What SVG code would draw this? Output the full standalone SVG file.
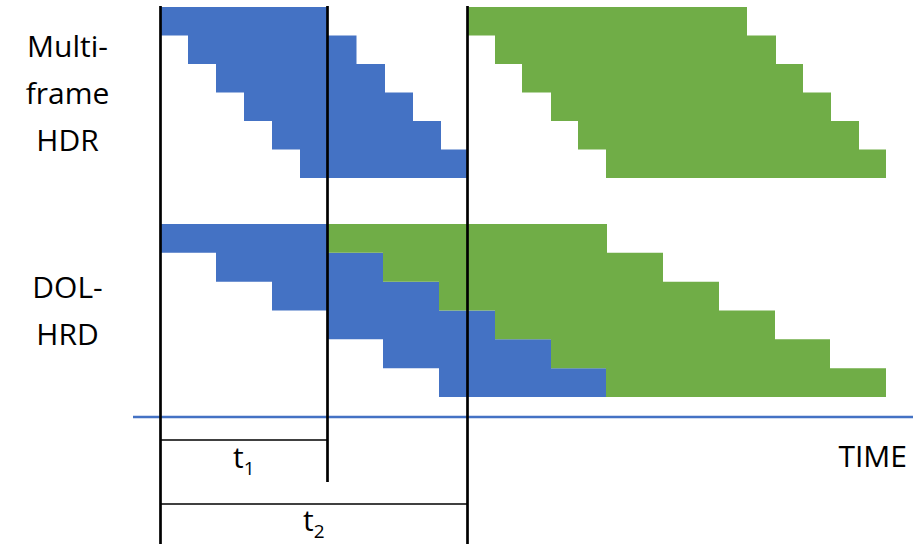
<svg xmlns="http://www.w3.org/2000/svg" width="919" height="544" viewBox="0 0 919 544">
<style>
.lbl{font-family:"Open Sans","Liberation Sans",sans-serif;font-size:30px;fill:#000}
.sub{font-size:19px}
.blue{fill:#4472C4}
.green{fill:#70AD47}
.vl{stroke:#000;stroke-width:2.7;fill:none}
.hl{stroke:#000;stroke-width:1.7;fill:none}
.axis{stroke:#4472C4;stroke-width:2.5;fill:none}
</style>
<rect width="919" height="544" fill="#fff"/>
<g id="label-multiframe">
<text class="lbl" x="67.5" y="57" text-anchor="middle">Multi-</text>
<text class="lbl" x="67.5" y="104" text-anchor="middle">frame</text>
<text class="lbl" x="67.5" y="151" text-anchor="middle">HDR</text>
</g>
<g id="label-dol">
<text class="lbl" x="67.5" y="298" text-anchor="middle">DOL-</text>
<text class="lbl" x="67.5" y="345" text-anchor="middle">HRD</text>
</g>
<g id="mf-frame1">
<path class="blue" d="M160,7 H327 V35.5 H356.5 V64 H385 V92.5 H413 V121 H441 V149.5 H467 V178 H300 V149.5 H272 V121 H244 V92.5 H216 V64 H188 V35.5 H160 Z"/>
</g>
<g id="mf-frame2">
<path class="green" d="M467,7 H747 V35.5 H776 V64 H803 V92.5 H831 V121 H859 V149.5 H886 V178 H606 V149.5 H578 V121 H551 V92.5 H522 V64 H495 V35.5 H467 Z"/>
</g>
<g id="dol-frame1">
<path class="blue" d="M160,224 H327 V252.8 H383 V281.7 H439 V310.5 H495 V339.3 H551 V368.2 H606 V397 H439 V368.2 H383 V339.3 H327 V310.5 H272 V281.7 H216 V252.8 H160 Z"/>
</g>
<g id="dol-frame2">
<path class="green" d="M327,224 H607 V252.8 H663 V281.7 H719 V310.5 H775 V339.3 H830 V368.2 H886 V397 H606 V368.2 H551 V339.3 H495 V310.5 H439 V281.7 H383 V252.8 H327 Z"/>
</g>
<g id="connectors">
<line class="axis" x1="133" y1="417" x2="913" y2="417"/>
<line class="vl" x1="160.5" y1="6" x2="160.5" y2="544"/>
<line class="vl" x1="327.5" y1="6" x2="327.5" y2="482"/>
<line class="vl" x1="467.5" y1="6" x2="467.5" y2="544"/>
<line class="hl" x1="160" y1="440" x2="327" y2="440"/>
<line class="hl" x1="160" y1="504" x2="467" y2="504"/>
</g>
<g id="label-t1">
<text class="lbl" x="233" y="468">t<tspan class="sub" dy="7">1</tspan></text>
</g>
<g id="label-t2">
<text class="lbl" x="303" y="531">t<tspan class="sub" dy="7">2</tspan></text>
</g>
<g id="label-time">
<text class="lbl" x="907" y="467" text-anchor="end">TIME</text>
</g>
</svg>
